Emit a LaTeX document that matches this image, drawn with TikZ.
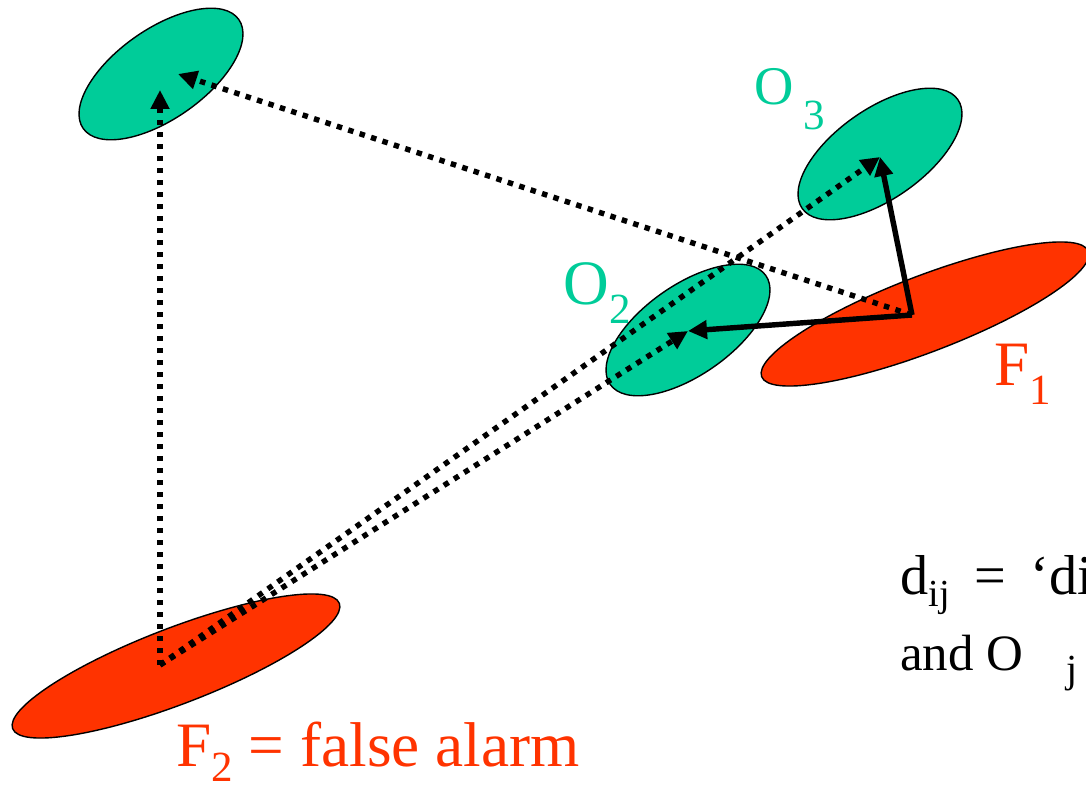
\documentclass[tikz,border=0pt]{standalone}
\usepackage{fontspec}
\setmainfont{Liberation Serif}
\usepackage{graphicx}
\usepackage{xcolor}
\definecolor{blobGreen}{HTML}{00CC99}
\definecolor{blobRed}{HTML}{FF3300}
\usetikzlibrary{shapes.geometric,arrows.meta}
\newcommand{\lowsub}[2][0.3em]{\raisebox{-#1}{\scalebox{0.68}{#2}}}
\tikzset{
  obsblob/.style={ellipse, draw=black, line width=0.8pt, fill=blobGreen, inner sep=0pt,
    minimum width=3.8cm, minimum height=1.8cm, rotate=35},
  fixblob/.style={ellipse, draw=black, line width=0.8pt, fill=blobRed, inner sep=0pt,
    minimum width=7cm, minimum height=1.52cm, rotate=21},
  dotlink/.style={line width=3.1pt, dash pattern=on 0.11cm off 0.13cm, -{Triangle[length=0.38cm,width=0.36cm]}},
  solidlink/.style={line width=3.1pt, -{Triangle[length=0.38cm,width=0.36cm]}},
  biglabel/.style={anchor=base west, inner sep=0pt, font=\fontsize{36}{43}\selectfont}
}

\begin{document}
\begin{tikzpicture}[x=0.02cm, y=-0.02cm]
  \useasboundingbox (0,0) rectangle (1086,787);
  \clip (0,0) rectangle (1086,787);
  % blobs
  \node[obsblob] (o1) at (161,74) {};
  \node[obsblob] (o3) at (880,154) {};
  \node[obsblob] (o2) at (688,330) {};
  \node[fixblob] (f1) at (925,314) {};
  \node[fixblob] (f2) at (176,666) {};
  % end points
  \coordinate (f1p) at (912,315);
  \coordinate (f2p) at (160,665);
  \coordinate (o1a) at (160,90);
  \coordinate (o1b) at (178,74);
  \coordinate (o2p) at (688,331);
  \coordinate (o3p) at (880,157);
  % links
  \draw[dotlink] (f2p) -- (o1a);
  \draw[dotlink] (f1p) -- (o1b);
  \draw[dotlink] (f2p) -- (o2p);
  \draw[dotlink] (f2p) -- (o3p);
  \draw[solidlink] (f1p) -- (o2p);
  \draw[solidlink] (f1p) -- (o3p);
  % labels
  \node[biglabel, text=blobGreen, font=\fontsize{31}{37}\selectfont] (o3lab) at (754,105)
    {O\hspace{0.2cm}\raisebox{-0.5cm}{\fontsize{24.5}{28}\selectfont 3}};
  \node[biglabel, text=blobGreen] (o2lab) at (563,305) {O\lowsub{2}};
  \node[biglabel, text=blobRed] (f1lab) at (994,386) {F\lowsub{1}};
  \node[biglabel, text=blobRed] (f2lab) at (176,766) {F\lowsub[0.25em]{2} = false alarm};
  \node[biglabel, font=\fontsize{32}{38}\selectfont] (dline1) at (900,594)
    {d\lowsub[0.22em]{ij}\hspace{0.22cm} = \hspace{0.2cm}‘di};
  \node[biglabel, font=\fontsize{29}{35}\selectfont] (dline2) at (900,670)
    {and O \hspace{0.6em}\lowsub[0.25em]{\scalebox{1.15}{j}}};
\end{tikzpicture}
\end{document}
